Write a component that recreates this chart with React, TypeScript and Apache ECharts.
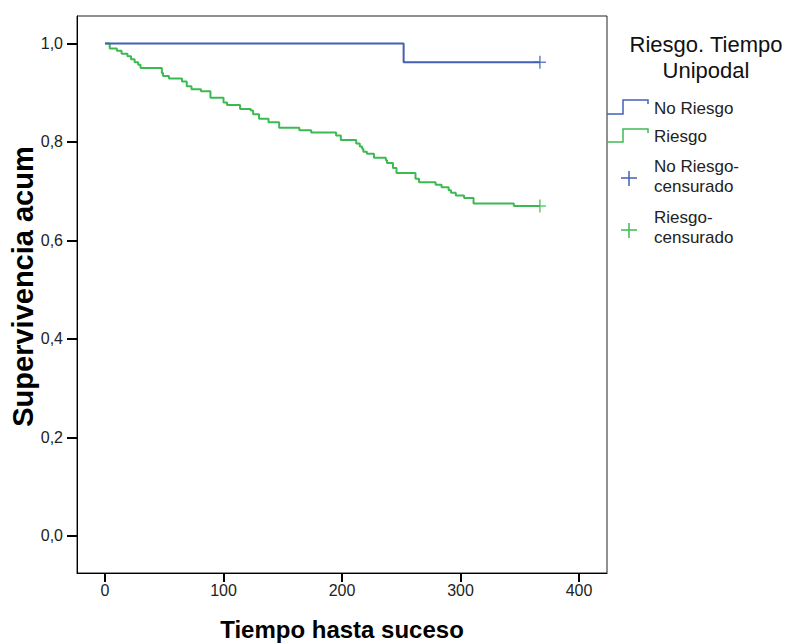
import React, { useEffect, useRef } from "react";
import * as echarts from "echarts";

const xTicks = [0, 100, 200, 300, 400];
const yTicks = [0, 0.2, 0.4, 0.6, 0.8, 1.0];

const noRiesgoTimes = [0, 252, 367];
const noRiesgoSurv = [1.0, 0.962, 0.962];

const riesgoTimes = [
  0, 4, 10, 14, 19, 22, 25, 28, 30, 48, 49, 54, 65, 69, 73, 81, 89, 100, 103,
  114, 123, 125, 130, 138, 147, 164, 174, 195, 199, 212, 215, 217, 218, 221,
  227, 237, 238, 243, 246, 262, 265, 279, 284, 290, 292, 296, 303, 311, 345,
  367,
];
const riesgoSurv = [
  1.0, 0.99, 0.985, 0.979, 0.974, 0.968, 0.962, 0.957, 0.95, 0.94, 0.934,
  0.929, 0.923, 0.913, 0.907, 0.903, 0.89, 0.88, 0.875, 0.867, 0.864, 0.856,
  0.847, 0.84, 0.829, 0.824, 0.819, 0.813, 0.804, 0.797, 0.791, 0.786, 0.78,
  0.776, 0.768, 0.763, 0.757, 0.747, 0.737, 0.725, 0.718, 0.713, 0.708, 0.702,
  0.697, 0.691, 0.686, 0.675, 0.67, 0.67,
];

const noRiesgoCensT = [367];
const noRiesgoCensS = [0.962];
const riesgoCensT = [367];
const riesgoCensS = [0.67];

const BLUE = "#4261b6";
const GREEN = "#3cba52";
const FONT = "Liberation Sans, Arial, sans-serif";
const PLUS = "path://M5.25,0h1.5v13h-1.5z M0,5.75h12v1.5h-12z";

export default function App() {
  const ref = useRef<HTMLDivElement>(null);
  useEffect(() => {
    document.body.style.margin = "0";
    const chart = echarts.init(ref.current!, null, { renderer: "svg" });
    const zip = (a: number[], b: number[]) => a.map((v, i) => [v, b[i]]);
    chart.setOption({
      animation: false,
      backgroundColor: "#fff",
      grid: {
        left: 77,
        top: 16,
        right: 178,
        bottom: 71,
        show: true,
        borderColor: "#222",
        borderWidth: 1,
        backgroundColor: "transparent",
        outerBoundsMode: "none",
        containLabel: false,
      },
      xAxis: {
        type: "value",
        min: -23.6,
        max: 423.6,
        name: "Tiempo hasta suceso",
        nameLocation: "middle",
        nameGap: 44,
        nameMoveOverlap: false,
        nameTextStyle: { fontFamily: FONT, fontWeight: "bold", fontSize: 24, color: "#000" },
        axisLine: { show: true, onZero: false, lineStyle: { color: "#000", width: 1 } },
        axisTick: { show: true, length: 9, customValues: xTicks, lineStyle: { color: "#000", width: 2 } },
        axisLabel: {
          customValues: xTicks,
          margin: 9,
          fontFamily: FONT,
          fontSize: 16,
          color: "#222",
        },
        splitLine: { show: false },
      },
      yAxis: {
        type: "value",
        min: -0.0755,
        max: 1.0558,
        name: "Supervivencia acum",
        nameLocation: "middle",
        nameGap: 40,
        nameMoveOverlap: false,
        nameRotate: 90,
        nameTextStyle: {
          fontFamily: FONT,
          fontWeight: "bold",
          fontSize: 29,
          color: "#000",
          padding: [0, 0, 0, 16],
        },
        axisLine: { show: true, onZero: false, lineStyle: { color: "#000", width: 1 } },
        axisTick: { show: true, length: 10, customValues: yTicks, lineStyle: { color: "#000", width: 2 } },
        axisLabel: {
          customValues: yTicks,
          margin: 14,
          fontFamily: FONT,
          fontSize: 16,
          color: "#222",
          formatter: (v: number) => v.toFixed(1).replace(".", ","),
        },
        splitLine: { show: false },
      },
      series: [
        {
          name: "No Riesgo",
          type: "line",
          step: "end",
          data: zip(noRiesgoTimes, noRiesgoSurv),
          showSymbol: false,
          lineStyle: { color: BLUE, width: 2 },
          z: 3,
        },
        {
          name: "Riesgo",
          type: "line",
          step: "end",
          data: zip(riesgoTimes, riesgoSurv),
          showSymbol: false,
          lineStyle: { color: GREEN, width: 2 },
          z: 2,
        },
        {
          name: "No Riesgo-censurado",
          type: "scatter",
          data: zip(noRiesgoCensT, noRiesgoCensS),
          symbol: PLUS,
          symbolSize: [12, 13],
          itemStyle: { color: BLUE },
          z: 4,
        },
        {
          name: "Riesgo-censurado",
          type: "scatter",
          data: zip(riesgoCensT, riesgoCensS),
          symbol: PLUS,
          symbolSize: [12, 13],
          itemStyle: { color: GREEN },
          z: 4,
        },
      ],
      graphic: [
        {
          type: "text",
          x: 706,
          y: 31,
          style: {
            text: "Riesgo. Tiempo\nUnipodal",
            font: `22px ${FONT}`,
            fill: "#111",
            align: "center",
            lineHeight: 26,
          },
        },
        {
          type: "polyline",
          shape: { points: [[607, 114], [623, 114], [623, 100], [648, 100], [648, 104]] },
          style: { stroke: BLUE, lineWidth: 1.5, fill: "none" },
        },
        {
          type: "text",
          x: 654,
          y: 108,
          style: { text: "No Riesgo", font: `17px ${FONT}`, fill: "#222", verticalAlign: "middle" },
        },
        {
          type: "polyline",
          shape: { points: [[607, 142], [623, 142], [623, 129], [648, 129], [648, 133]] },
          style: { stroke: GREEN, lineWidth: 1.5, fill: "none" },
        },
        {
          type: "text",
          x: 654,
          y: 136,
          style: { text: "Riesgo", font: `17px ${FONT}`, fill: "#222", verticalAlign: "middle" },
        },
        {
          type: "polyline",
          shape: { points: [[621, 178], [637, 178]] },
          style: { stroke: BLUE, lineWidth: 1.5 },
        },
        {
          type: "polyline",
          shape: { points: [[629, 171], [629, 186]] },
          style: { stroke: BLUE, lineWidth: 1.5 },
        },
        {
          type: "text",
          x: 654,
          y: 176,
          style: {
            text: "No Riesgo-\ncensurado",
            font: `17px ${FONT}`,
            fill: "#222",
            verticalAlign: "middle",
            lineHeight: 20,
          },
        },
        {
          type: "polyline",
          shape: { points: [[621, 230], [637, 230]] },
          style: { stroke: GREEN, lineWidth: 1.5 },
        },
        {
          type: "polyline",
          shape: { points: [[629, 223], [629, 238]] },
          style: { stroke: GREEN, lineWidth: 1.5 },
        },
        {
          type: "text",
          x: 654,
          y: 227,
          style: {
            text: "Riesgo-\ncensurado",
            font: `17px ${FONT}`,
            fill: "#222",
            verticalAlign: "middle",
            lineHeight: 20,
          },
        },
      ],
    });
    return () => chart.dispose();
  }, []);
  return <div ref={ref} style={{ width: 785, height: 644 }} />;
}
